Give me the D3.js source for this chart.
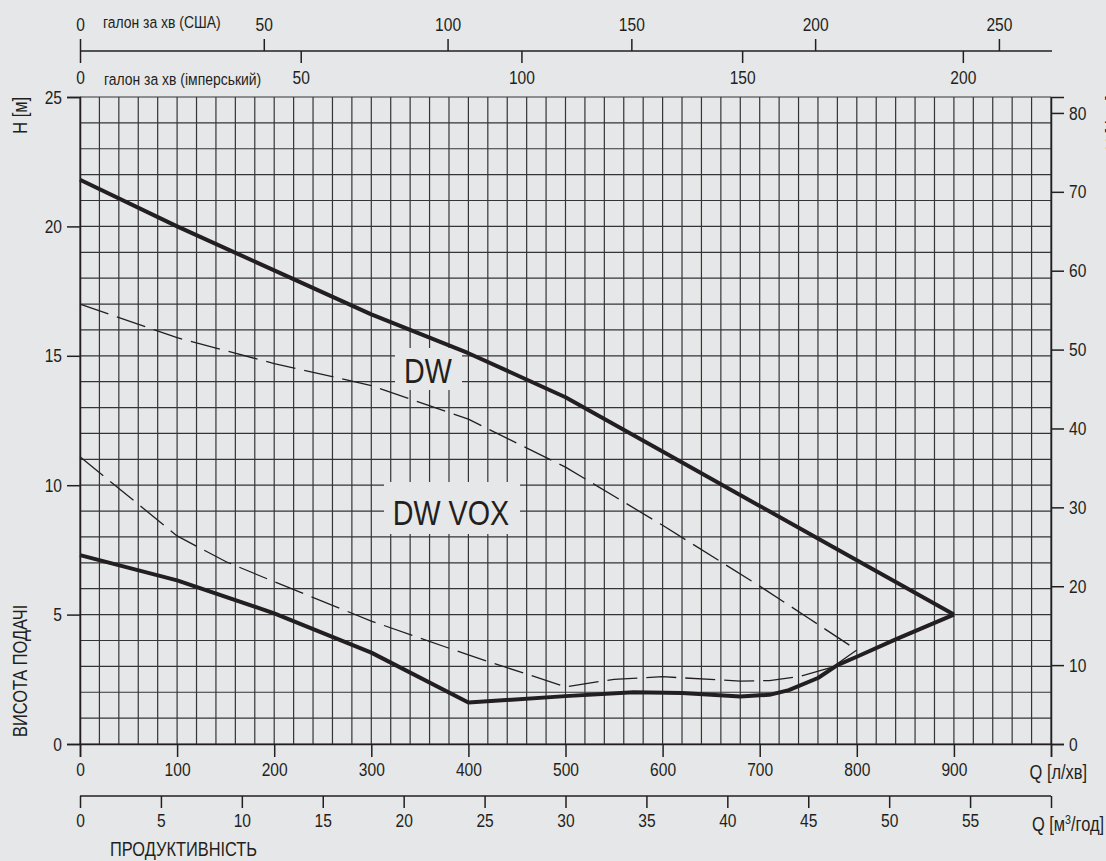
<!DOCTYPE html>
<html>
<head>
<meta charset="utf-8">
<script src="https://cdn.jsdelivr.net/npm/d3@7"></script>
<style>
  html, body { margin: 0; padding: 0; background: #e6e7e8; }
  svg { display: block; }
  text { font-family: "Liberation Sans", Arial, sans-serif; fill: #231f20; }
</style>
</head>
<body>
<svg id="chart"></svg>
<script>
// Pump curves, Q in l/min, H in m
const dwTopQ = [0, 100, 200, 300, 400, 500, 600, 700, 800, 900];
const dwTopH = [21.8, 20.0, 18.3, 16.6, 15.1, 13.4, 11.3, 9.2, 7.1, 5.0];

const dwLowQ = [0, 100, 200, 300, 400, 500, 570, 620, 680, 710, 730, 760, 780, 800, 840, 900];
const dwLowH = [7.3, 6.32, 5.05, 3.53, 1.6, 1.85, 2.0, 1.97, 1.84, 1.9, 2.08, 2.55, 3.05, 3.37, 4.04, 5.0];

const voxTopQ = [0, 100, 200, 300, 400, 500, 600, 700, 750, 800];
const voxTopH = [17.0, 15.7, 14.7, 13.85, 12.55, 10.7, 8.45, 6.1, 4.87, 3.63];

const voxLowQ = [0, 100, 150, 200, 300, 400, 500, 550, 600, 680, 710, 740, 775, 800];
const voxLowH = [11.1, 8.04, 7.05, 6.27, 4.75, 3.44, 2.21, 2.5, 2.6, 2.43, 2.45, 2.6, 2.97, 3.63];

// axis ticks
const lminTicks = [0, 100, 200, 300, 400, 500, 600, 700, 800, 900];
const m3hTicks = [0, 5, 10, 15, 20, 25, 30, 35, 40, 45, 50, 55];
const usTicks = [0, 50, 100, 150, 200, 250];
const impTicks = [0, 50, 100, 150, 200];
const hTicks = [0, 5, 10, 15, 20, 25];
const ftTicks = [0, 10, 20, 30, 40, 50, 60, 70, 80];

const width = 1106, height = 861;
const bg = "#e6e7e8", ink = "#231f20";
const sx = 0.82; // horizontal squeeze to mimic the condensed face

const svg = d3.select("#chart").attr("width", width).attr("height", height);

const x = d3.scaleLinear().domain([0, 1000]).range([80, 1051]);
const y = d3.scaleLinear().domain([0, 25]).range([744, 97]);
// secondary scales from unit conversions
const xM3 = d3.scaleLinear().domain([0, 60]).range(x.range());
const xUs = d3.scaleLinear().domain([0, 1000 / 3.78541]).range(x.range());
const xImp = d3.scaleLinear().domain([0, 1000 / 4.54609]).range(x.range());
const yFt = d3.scaleLinear().domain([0, 25 / 0.3048]).range(y.range());

// grid
const grid = svg.append("g").attr("stroke", "#353535").attr("stroke-width", 1.2);
grid.selectAll(".v").data(d3.range(0, 1001, 20)).enter().append("line")
    .attr("x1", d => x(d)).attr("x2", d => x(d))
    .attr("y1", y(0)).attr("y2", y(25));
grid.selectAll(".h").data(d3.range(0, 26, 1)).enter().append("line")
    .attr("x1", x(0)).attr("x2", x(1000))
    .attr("y1", d => y(d)).attr("y2", d => y(d));

function styleAxis(g) {
    g.selectAll(".domain").attr("stroke", ink).attr("stroke-width", 1.5);
    g.selectAll(".tick line").attr("stroke", ink).attr("stroke-width", 1.5);
    g.selectAll(".tick text").style("font-size", "19px").attr("fill", ink)
        .attr("x", function () { return (+d3.select(this).attr("x") || 0) / sx; })
        .attr("transform", `scale(${sx},1)`);
}

// left H axis
svg.append("g").attr("transform", `translate(${x(0)},0)`)
    .call(d3.axisLeft(y).tickValues(hTicks).tickSize(13).tickPadding(5))
    .call(styleAxis);

// right ft axis
svg.append("g").attr("transform", `translate(${x(1000)},0)`)
    .call(d3.axisRight(yFt).tickValues(ftTicks).tickSize(13).tickPadding(5))
    .call(styleAxis);

// bottom l/min axis (tick at 1000 without label)
svg.append("g").attr("transform", `translate(0,${y(0)})`)
    .call(d3.axisBottom(x).tickValues(lminTicks.concat([1000])).tickSize(13).tickPadding(6)
        .tickFormat(d => d === 1000 ? "" : d))
    .call(styleAxis);

// bottom m3/h axis
svg.append("g").attr("transform", "translate(0,796)")
    .call(d3.axisBottom(xM3).tickValues(m3hTicks.concat([60])).tickSize(12).tickPadding(6)
        .tickFormat(d => d === 60 ? "" : d))
    .call(styleAxis)
    .call(g => g.select(".domain").attr("d", `M${x(0)},0H${x(1000)}`));

// top US gpm axis (ticks up)
svg.append("g").attr("transform", "translate(0,51)")
    .call(d3.axisTop(xUs).tickValues(usTicks).tickSize(12).tickPadding(8))
    .call(styleAxis)
    .call(g => g.select(".domain").attr("d", `M${x(0)},0H${x(1000) + 1}`));

// top imperial gpm axis (ticks down)
svg.append("g").attr("transform", "translate(0,51)")
    .call(d3.axisBottom(xImp).tickValues(impTicks).tickSize(12).tickPadding(8))
    .call(styleAxis)
    .call(g => g.select(".domain").remove());

// squeezed text helper: position (px,py), optional rotation
function label(px, py, str, size, anchor, rot) {
    const t = svg.append("text")
        .attr("transform", `translate(${px},${py})` + (rot ? ` rotate(${rot})` : "") + ` scale(${sx},1)`)
        .attr("text-anchor", anchor || "start")
        .style("font-size", size + "px");
    if (str) t.text(str);
    return t;
}

// axis titles
label(103, 28, "галон за хв (США)", 17);
label(104, 85, "галон за хв (імперський)", 17);
label(1087, 779, "Q [л/хв]", 20, "end");
label(1104, 831, null, 20, "end")
    .html("Q [м<tspan dy='-7' font-size='13'>3</tspan><tspan dy='7'>/год]</tspan>");
label(110, 856, "ПРОДУКТИВНІСТЬ", 20);
label(27, 97, "H [м]", 20, "end", -90);
label(27, 737, "ВИСОТА ПОДАЧІ", 20, "start", -90);
label(1120, 150, "H [фут]", 20, "start", -90);

// curve labels on background boxes
const labels = [
    { text: "DW", cx: 428, base: 383, box: [395, 348, 67, 42] },
    { text: "DW VOX", cx: 451, base: 525, box: [384, 482, 136, 52] }
];
labels.forEach(l => {
    svg.append("rect").attr("x", l.box[0]).attr("y", l.box[1])
        .attr("width", l.box[2]).attr("height", l.box[3]).attr("fill", bg);
    label(l.cx, l.base, l.text, 35, "middle");
});

// curves
const line = d3.line().x(d => x(d[0])).y(d => y(d[1]));
const zip = (qs, hs) => qs.map((q, i) => [q, hs[i]]);

const curves = [
    { pts: zip(voxTopQ, voxTopH), w: 1.3, dash: "30,9" },
    { pts: zip(voxLowQ, voxLowH), w: 1.3, dash: "30,9" },
    { pts: zip(dwTopQ, dwTopH), w: 4, dash: null },
    { pts: zip(dwLowQ, dwLowH), w: 4, dash: null }
];
svg.selectAll("path.curve").data(curves).enter().append("path")
    .attr("class", "curve")
    .attr("d", d => line(d.pts))
    .attr("fill", "none")
    .attr("stroke", ink)
    .attr("stroke-width", d => d.w)
    .attr("stroke-linejoin", "round")
    .attr("stroke-dasharray", d => d.dash);
</script>
</body>
</html>
